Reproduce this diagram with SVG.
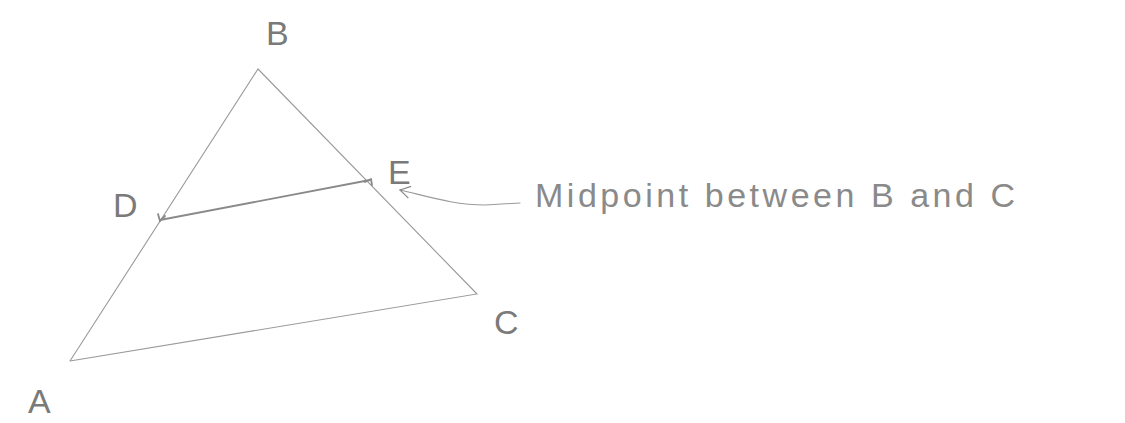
<svg xmlns="http://www.w3.org/2000/svg" width="1125" height="423" viewBox="0 0 1125 423">
<style>
.edge{fill:none;stroke:#9a9a9a;stroke-width:1.1;stroke-linecap:round}
.seg{fill:none;stroke:#8a8a8a;stroke-width:1.8;stroke-linecap:round}
.lbl{font-family:"Liberation Sans",sans-serif;font-size:34px;fill:#7a7a7a;font-weight:300}
.note{font-family:"Liberation Sans",sans-serif;font-size:34px;fill:#8a8a8a}
</style>
<defs>
<marker id="ah" markerWidth="14" markerHeight="14" refX="2" refY="7" orient="auto" markerUnits="userSpaceOnUse">
<path d="M12,1 L2,7 L12,13" fill="none" stroke="#888" stroke-width="1.2"/>
</marker>
</defs>
<rect width="1125" height="423" fill="#fff"/>
<g id="triangle">
<path class="edge" d="M70,361 L258,69 L477,294 L70,361"/>
</g>
<g id="connectors">
<path class="seg" d="M160,220 L370,180"/>
<path class="seg" d="M158,214 L160,221 L165,216"/>
<path class="seg" d="M365,182 L371,179 L372,185"/>
<path class="edge" d="M400,190 C430,197 455,205 485,205 L520,203" marker-start="url(#ah)"/>
</g>
<g id="node-B"><text class="lbl" x="266" y="45">B</text></g>
<g id="node-D"><text class="lbl" x="113" y="217">D</text></g>
<g id="node-E"><text class="lbl" x="388" y="184" font-size="28">E</text></g>
<g id="node-C"><text class="lbl" x="494" y="334">C</text></g>
<g id="node-A"><text class="lbl" x="28" y="413">A</text></g>
<g id="label-midpoint"><text class="note" x="535" y="207" textLength="480" lengthAdjust="spacing">Midpoint between B and C</text></g>
</svg>
